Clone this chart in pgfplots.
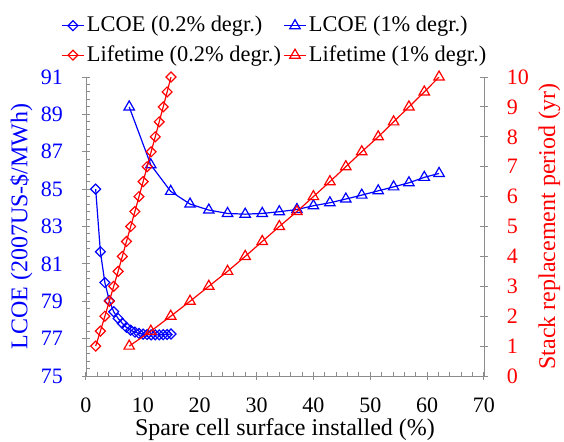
\documentclass[border=0pt]{standalone}
\usepackage{fontspec}
\setmainfont{Liberation Serif}
\usepackage{pgfplots}
\pgfplotsset{compat=1.18}
\usepackage{pgfplotstable}

% spare surface (%), LCOE, stack replacement period (yr)
\pgfplotstableread{
x      lcoe   life
1.70   85.00  1.0
2.53   81.65  1.5
3.32   80.00  2.0
4.10   79.03  2.5
4.87   78.44  3.0
5.65   78.08  3.5
6.39   77.82  4.0
7.12   77.60  4.5
7.86   77.45  5.0
8.60   77.35  5.5
9.32   77.28  6.0
10.05  77.24  6.5
10.75  77.22  7.0
11.46  77.20  7.5
12.18  77.20  8.0
12.88  77.20  8.5
13.58  77.21  9.0
14.27  77.22  9.5
14.95  77.25  10.0
}\lowdeg

\pgfplotstableread{
x      lcoe   life
7.6    89.40  1.0
11.4   86.30  1.5
14.9   84.88  2.0
18.3   84.20  2.5
21.6   83.88  3.0
24.9   83.70  3.5
28.0   83.66  4.0
31.0   83.70  4.5
34.0   83.79  5.0
37.1   83.91  5.5
40.0   84.11  6.0
42.9   84.27  6.5
45.7   84.47  7.0
48.5   84.68  7.5
51.4   84.91  8.0
54.1   85.12  8.5
56.8   85.34  9.0
59.5   85.63  9.5
62.1   85.84  10.0
}\highdeg

\pgfplotsset{
  common/.style={
    width=199pt, height=149.5pt, scale only axis,
    xmin=0, xmax=70,
    font=\rmfamily\fontsize{12}{14}\selectfont,
    tick label style={font=\rmfamily\fontsize{11}{13}\selectfont, inner sep=0pt},
    /pgf/number format/assume math mode=true,
    axis line style={gray!90},
    tick style={gray!90, line width=0.5pt},
    tick align=center,
    major tick length=4pt,
    minor tick length=2pt,
    yticklabel shift=9.3pt,
    xticklabel shift=8.7pt,
  },
  dia/.style={mark=square, mark size=1.75pt, line width=0.6pt,
    mark options={rotate=45, solid}},
  tri/.style={mark=triangle, mark size=3pt, line width=0.6pt,
    mark options={solid}},
}

\begin{document}
\begin{tikzpicture}
\begin{axis}[
  common, name=main,
  axis x line*=bottom, axis y line*=left,
  ymin=75, ymax=91,
  xtick={0,10,...,70},
  ytick={75,77,...,91},
  minor x tick num=4, minor y tick num=4,
  minor x tick style={yshift=1pt},
  minor y tick style={xshift=1pt},
  yticklabel style={blue},
  xlabel={Spare cell surface installed (\%)},
  ylabel={LCOE (2007US-\$/MWh)},
  every axis x label/.style={at={(axis description cs:0.5,0)}, anchor=base,
    yshift=-29.5pt},
  every axis y label/.style={at={(axis description cs:-0.1332,0.5)}, rotate=90,
    anchor=south, inner sep=0pt, blue},
  legend columns=2,
  legend cell align=left,
  legend style={draw=none, fill=none, inner sep=0pt, outer sep=0pt,
    at={(rel axis cs:-0.0628,1.035)}, anchor=south west,
    font=\rmfamily\fontsize{11.2}{14}\selectfont, row sep=3.4pt,
    nodes={inner sep=1pt},
    /tikz/every even column/.append style={column sep=0pt}},
  legend image code/.code={\draw[mark repeat=2,mark phase=2,#1]
    plot coordinates {(0cm,0cm) (0.2cm,0cm) (0.4cm,0cm)};},
]
\addplot[blue, dia] table[x=x, y=lcoe] {\lowdeg};
\addlegendentry{LCOE (0.2\% degr.)}
\addplot[blue, tri] table[x=x, y=lcoe] {\highdeg};
\addlegendentry{LCOE (1\% degr.)}
\addlegendimage{red, dia}
\addlegendentry{Lifetime (0.2\% degr.)}
\addlegendimage{red, tri}
\addlegendentry{Lifetime (1\% degr.)}
\end{axis}
\begin{axis}[
  common,
  axis x line=none, axis y line*=right,
  ymin=0, ymax=10,
  ytick={0,1,...,10},
  yticklabel style={red},
  ylabel={Stack replacement period (yr)},
  every axis y label/.style={at={(axis description cs:1.1357,0.5)}, rotate=90,
    anchor=north, inner sep=0pt, red},
]
\addplot[red, dia] table[x=x, y=life] {\lowdeg};
\addplot[red, tri] table[x=x, y=life] {\highdeg};
\end{axis}
\pgfresetboundingbox
\path (main.south west) ++(-43pt,-32.5pt) rectangle ++(282pt,220.5pt);
\end{tikzpicture}
\end{document}
